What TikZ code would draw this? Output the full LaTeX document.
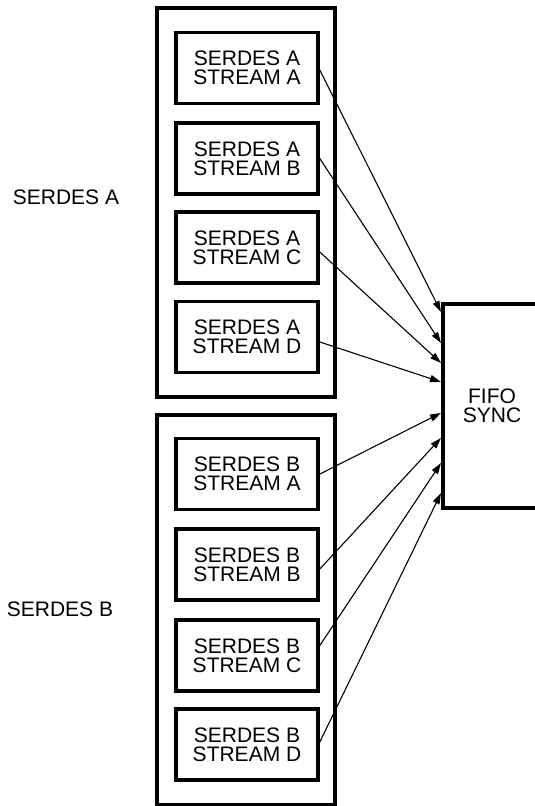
\documentclass[tikz,border=0pt]{standalone}
\usepackage{fontspec}
\setmainfont{Liberation Sans}
\usetikzlibrary{arrows.meta}
\begin{document}
\begin{tikzpicture}[x=1pt,y=-1pt,
  lbl/.style={font=\fontsize{21}{19}\selectfont, align=center, inner sep=0pt},
  outerbox/.style={draw, line width=3.6pt},
  streambox/.style={draw, line width=3.6pt, minimum width=142pt, minimum height=71pt, inner sep=0pt, align=center, font=\fontsize{21}{19}\selectfont},
  conn/.style={line width=1.1pt, -{Triangle[length=11pt,width=7pt]}}]
\useasboundingbox (0,0) rectangle (535,806);
\clip (0,0) rectangle (535,806);
\fill[white] (0,0) rectangle (535,806);
% outer boxes
\draw[outerbox] (157,8) rectangle (335,397);
\draw[outerbox] (157,415) rectangle (335,805);
% labels
\node[lbl] (la) at (66,197) {SERDES A};
\node[lbl] (lb) at (60,609) {SERDES B};
% stream boxes
\node[streambox] (a1) at (247,68) {SERDES A\\STREAM A};
\node[streambox] (a2) at (247,158.5) {SERDES A\\STREAM B};
\node[streambox] (a3) at (247,247.5) {SERDES A\\STREAM C};
\node[streambox] (a4) at (247,337) {SERDES A\\STREAM D};
\node[streambox] (b1) at (247,474) {SERDES B\\STREAM A};
\node[streambox] (b2) at (247,564.5) {SERDES B\\STREAM B};
\node[streambox] (b3) at (247,655.5) {SERDES B\\STREAM C};
\node[streambox] (b4) at (247,744.5) {SERDES B\\STREAM D};
% FIFO
\node[draw, line width=3.6pt, minimum width=98pt, minimum height=204pt, inner sep=0pt, align=center, font=\fontsize{21}{19}\selectfont] (fifo) at (492,406) {FIFO\\SYNC};
% arrow targets on FIFO left side
\coordinate (t1) at (441,312);
\coordinate (t2) at (441,343);
\coordinate (t3) at (441,363);
\coordinate (t4) at (441,382);
\coordinate (t5) at (441,413);
\coordinate (t6) at (441,438);
\coordinate (t7) at (441,463);
\coordinate (t8) at (441,493);
\draw[conn] ([yshift=-2pt]a1.east) -- (t1);
\draw[conn] (a2.east) -- (t2);
\draw[conn] ([yshift=-4.5pt]a3.east) -- (t3);
\draw[conn] ([yshift=-5pt]a4.east) -- (t4);
\draw[conn] (b1.east) -- (t5);
\draw[conn] ([yshift=-4.5pt]b2.east) -- (t6);
\draw[conn] ([yshift=10pt]b3.east) -- (t7);
\draw[conn] ([yshift=2.5pt]b4.east) -- (t8);
\end{tikzpicture}
\end{document}
